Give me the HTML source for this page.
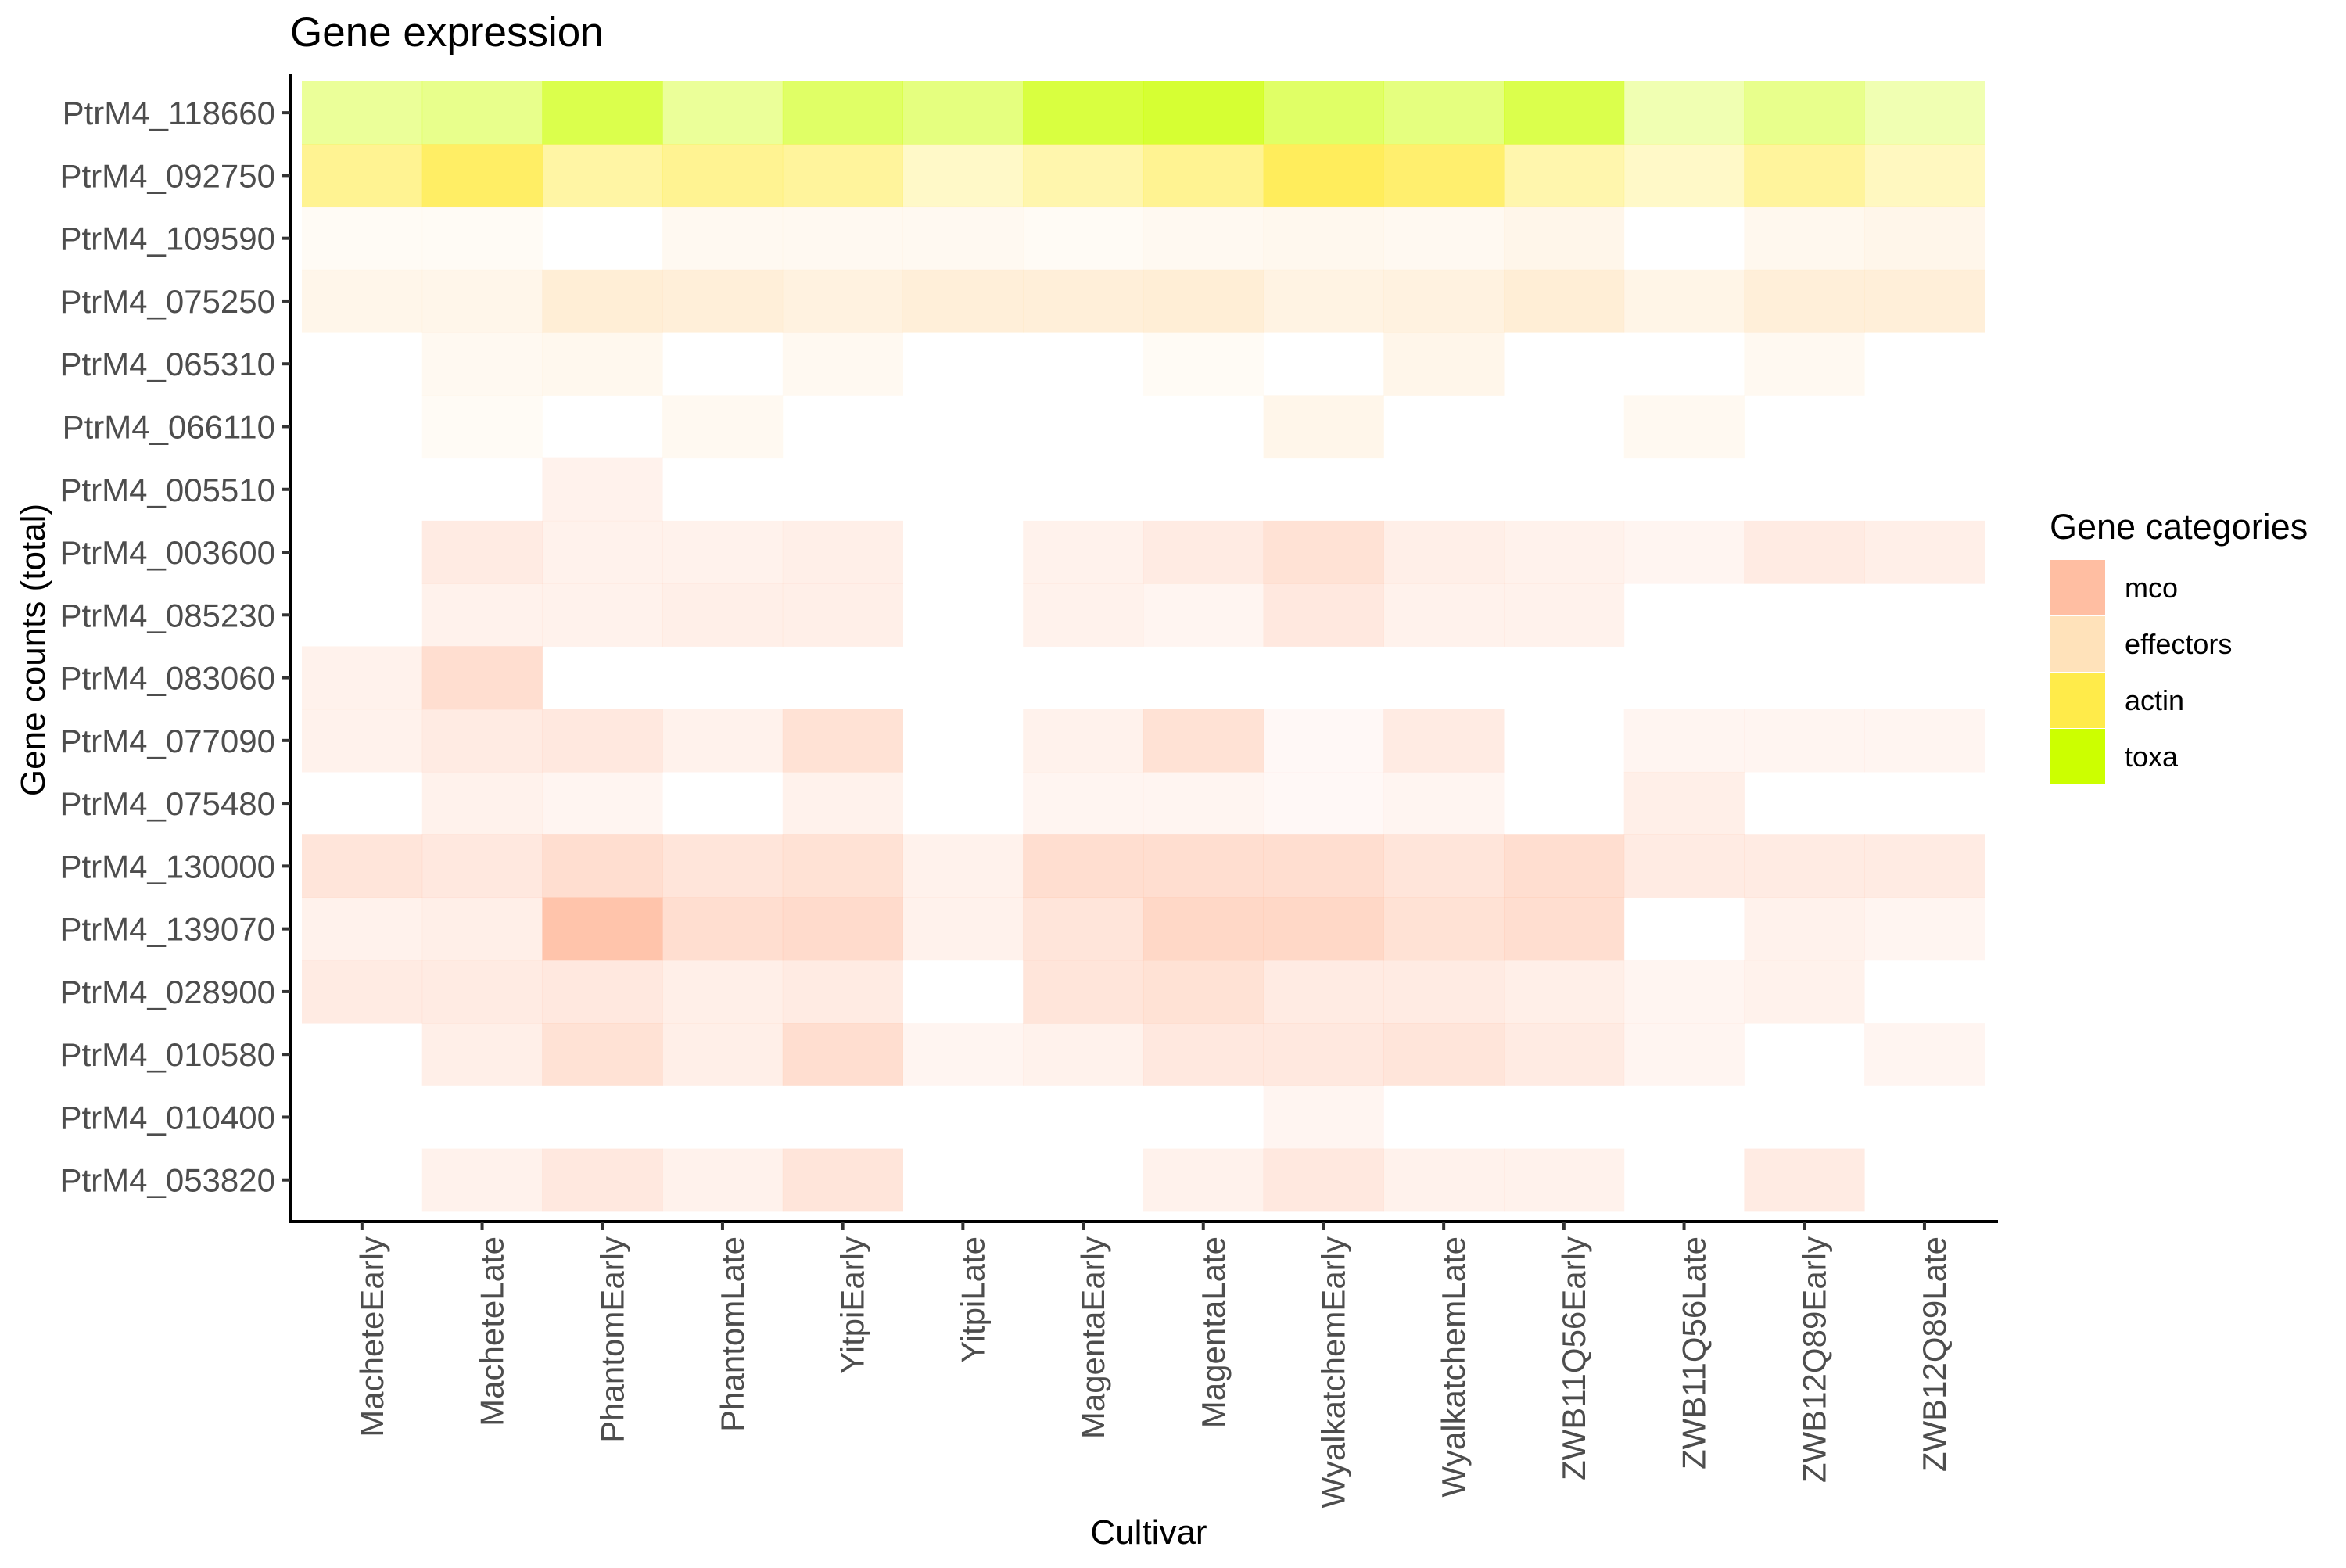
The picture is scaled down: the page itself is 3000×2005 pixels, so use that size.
<!DOCTYPE html>
<html><head><meta charset="utf-8">
<style>
html,body{margin:0;padding:0;background:#fff;}
svg text{font-family:"Liberation Sans",sans-serif;}
</style></head>
<body>
<svg id="chart" xmlns="http://www.w3.org/2000/svg" width="3000" height="2000" viewBox="0 0 3000 2000">
<rect width="3000" height="2000" fill="#fff"/>
<text x="371" y="59" font-size="53" fill="#000">Gene expression</text>
<g id="cells"></g>
<line x1="371" y1="94" x2="371" y2="1564" stroke="#000" stroke-width="4"/>
<line x1="369" y1="1562" x2="2555" y2="1562" stroke="#000" stroke-width="4"/>
<g id="yticks"></g>
<g id="xticks"></g>
<text x="1469" y="1974" font-size="44" text-anchor="middle" fill="#000">Cultivar</text>
<text transform="translate(57,831) rotate(-90)" font-size="44" text-anchor="middle" fill="#000">Gene counts (total)</text>
<g id="legend">
<text x="2621" y="689" font-size="45" fill="#000">Gene categories</text>
</g>
</svg>
<script>
const cultivars = ["MacheteEarly","MacheteLate","PhantomEarly","PhantomLate","YitpiEarly","YitpiLate","MagentaEarly","MagentaLate","WyalkatchemEarly","WyalkatchemLate","ZWB11Q56Early","ZWB11Q56Late","ZWB12Q89Early","ZWB12Q89Late"];
const genes = ["PtrM4_118660","PtrM4_092750","PtrM4_109590","PtrM4_075250","PtrM4_065310","PtrM4_066110","PtrM4_005510","PtrM4_003600","PtrM4_085230","PtrM4_083060","PtrM4_077090","PtrM4_075480","PtrM4_130000","PtrM4_139070","PtrM4_028900","PtrM4_010580","PtrM4_010400","PtrM4_053820"];
const geneCategory = ["toxa","actin","effectors","effectors","effectors","effectors","mco","mco","mco","mco","mco","mco","mco","mco","mco","mco","mco","mco"];
const categories = ["mco","effectors","actin","toxa"];
const categoryColors = ["#FFBEA2","#FFE2BA","#FFEB4A","#CCFF00"];
const expression = [
[0.4,0.45,0.7,0.4,0.6,0.5,0.75,0.8,0.6,0.5,0.7,0.3,0.45,0.3],
[0.6,0.85,0.5,0.6,0.55,0.3,0.45,0.6,0.9,0.8,0.45,0.3,0.55,0.35],
[0.15,0.15,0,0.2,0.2,0.2,0.15,0.2,0.25,0.2,0.3,0,0.25,0.3],
[0.3,0.3,0.6,0.55,0.45,0.55,0.55,0.6,0.4,0.45,0.6,0.35,0.55,0.55],
[0,0.2,0.25,0,0.2,0,0,0.15,0,0.3,0,0,0.2,0],
[0,0.15,0,0.2,0,0,0,0,0.3,0,0,0.2,0,0],
[0,0,0.2,0,0,0,0,0,0,0,0,0,0,0],
[0,0.3,0.2,0.2,0.25,0,0.2,0.3,0.45,0.25,0.2,0.15,0.3,0.25],
[0,0.2,0.2,0.25,0.25,0,0.2,0.15,0.35,0.2,0.2,0,0,0],
[0.2,0.5,0,0,0,0,0,0,0,0,0,0,0,0],
[0.2,0.3,0.35,0.2,0.45,0,0.2,0.45,0.1,0.3,0,0.15,0.15,0.15],
[0,0.2,0.15,0,0.2,0,0.15,0.15,0.1,0.15,0,0.25,0,0],
[0.4,0.35,0.5,0.4,0.45,0.2,0.5,0.5,0.5,0.4,0.5,0.3,0.3,0.3],
[0.2,0.25,0.9,0.5,0.55,0.2,0.4,0.6,0.6,0.45,0.5,0,0.2,0.15],
[0.3,0.3,0.35,0.25,0.3,0,0.4,0.45,0.3,0.3,0.25,0.15,0.2,0],
[0,0.25,0.45,0.25,0.5,0.15,0.2,0.35,0.35,0.4,0.3,0.15,0,0.15],
[0,0,0,0,0,0,0,0,0.15,0,0,0,0,0],
[0,0.2,0.35,0.2,0.4,0,0,0.2,0.35,0.2,0.2,0,0.3,0]
];
const NS = "http://www.w3.org/2000/svg";
const x0 = 386, colW = 153.7, y0 = 104, rowH = 80.27;
function xPos(i){ return x0 + i*colW; }
function yPos(j){ return y0 + j*rowH; }
const cellsG = document.getElementById("cells");
genes.forEach((g,j)=>{
  const col = categoryColors[categories.indexOf(geneCategory[j])];
  cultivars.forEach((c,i)=>{
    const v = expression[j][i];
    if (v <= 0) return;
    const r = document.createElementNS(NS,"rect");
    r.setAttribute("x", xPos(i)); r.setAttribute("y", yPos(j));
    r.setAttribute("width", colW+0.5); r.setAttribute("height", rowH+0.5);
    r.setAttribute("fill", col); r.setAttribute("fill-opacity", v);
    
    
    cellsG.appendChild(r);
  });
});
const yt = document.getElementById("yticks");
genes.forEach((g,j)=>{
  const cy = yPos(j) + rowH/2;
  const l = document.createElementNS(NS,"line");
  l.setAttribute("x1",361); l.setAttribute("x2",371); l.setAttribute("y1",cy); l.setAttribute("y2",cy);
  l.setAttribute("stroke","#333"); l.setAttribute("stroke-width",4);
  
  
  yt.appendChild(l);
  const t = document.createElementNS(NS,"text");
  t.setAttribute("x",352); t.setAttribute("y",cy+15); t.setAttribute("text-anchor","end");
  t.setAttribute("font-size",42); t.setAttribute("fill","#4D4D4D");
  t.textContent = g;
  
  
  yt.appendChild(t);
});
const xt = document.getElementById("xticks");
cultivars.forEach((c,i)=>{
  const cx = xPos(i) + colW/2;
  const l = document.createElementNS(NS,"line");
  l.setAttribute("x1",cx); l.setAttribute("x2",cx); l.setAttribute("y1",1562); l.setAttribute("y2",1573);
  l.setAttribute("stroke","#333"); l.setAttribute("stroke-width",4);
  
  
  xt.appendChild(l);
  const t = document.createElementNS(NS,"text");
  t.setAttribute("transform","translate("+(cx+27)+",1581) rotate(-90)");
  t.setAttribute("text-anchor","end");
  t.setAttribute("font-size",42); t.setAttribute("fill","#4D4D4D");
  t.textContent = c;
  
  
  xt.appendChild(t);
});
const lg = document.getElementById("legend");
categories.forEach((c,k)=>{
  const y = 716 + k*72;
  const r = document.createElementNS(NS,"rect");
  r.setAttribute("x",2621); r.setAttribute("y",y); r.setAttribute("width",71); r.setAttribute("height",71);
  r.setAttribute("fill",categoryColors[k]);
  
  
  lg.appendChild(r);
  const t = document.createElementNS(NS,"text");
  t.setAttribute("x",2717); t.setAttribute("y",y+48);
  t.setAttribute("font-size",36); t.setAttribute("fill","#000");
  t.textContent = c;
  
  
  lg.appendChild(t);
});
</script>
</body></html>
